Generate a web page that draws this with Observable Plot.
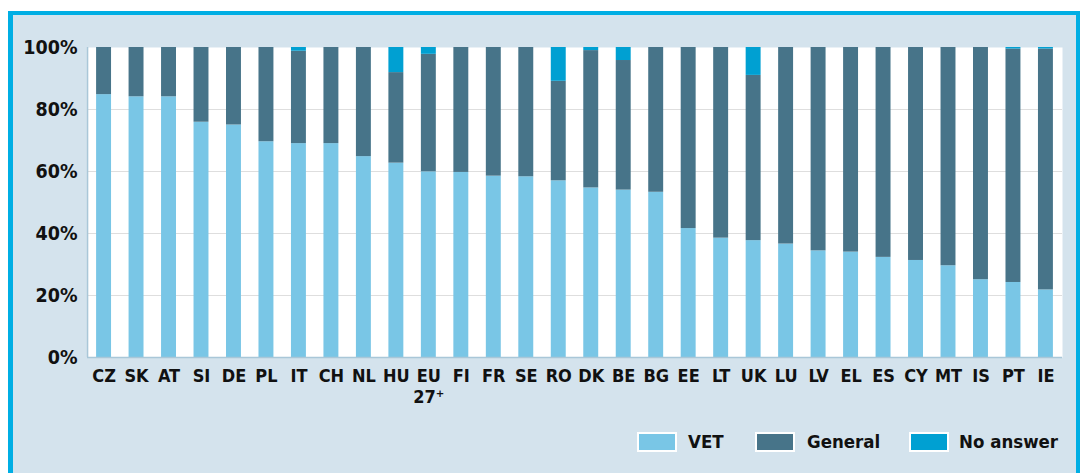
<!DOCTYPE html>
<html><head><meta charset="utf-8">
<script src="https://cdn.jsdelivr.net/npm/d3@7"></script>
<script src="https://cdn.jsdelivr.net/npm/@observablehq/plot@0.6"></script>
<style>
html,body{margin:0;padding:0;background:#fff;width:1080px;height:473px;overflow:hidden;position:relative;font-family:"DejaVu Sans Condensed",sans-serif;}
#frame{position:absolute;left:8px;top:11px;width:1072px;height:470px;box-sizing:border-box;border-left:5px solid #00aee4;border-top:4px solid #00aee4;border-right:4px solid #00aee4;background:#d4e3ed;}
#chart{position:absolute;left:0;top:0;}
.sw{position:absolute;top:432px;width:40px;height:20px;box-sizing:border-box;border:2px solid #fff;}
.lt{position:absolute;top:431px;height:22px;line-height:22px;font-size:18.5px;font-weight:bold;color:#111;white-space:nowrap;}
</style></head>
<body>
<div id="frame"></div>
<div id="chart"></div>
<div id="legend"></div>
<script>
const countries = ["CZ","SK","AT","SI","DE","PL","IT","CH","NL","HU","EU\n27⁺","FI","FR","SE","RO","DK","BE","BG","EE","LT","UK","LU","LV","EL","ES","CY","MT","IS","PT","IE"];
const vet      = [84.8,84.1,84.1,75.9,75.0,69.6,69.0,69.0,64.8,62.7,59.9,59.7,58.5,58.3,57.0,54.7,54.0,53.3,41.6,38.5,37.7,36.6,34.4,34.0,32.3,31.3,29.6,25.1,24.2,21.8];
const general  = [15.2,15.9,15.9,24.1,25.0,30.4,29.8,31.0,35.2,29.2,37.9,40.3,41.5,41.7,32.1,44.3,41.8,46.7,58.4,61.5,53.3,63.4,65.6,66.0,67.7,68.7,70.4,74.9,75.3,77.7];
const noAnswer = [0,0,0,0,0,0,1.2,0,0,8.1,2.2,0,0,0,10.9,1.0,4.2,0,0,0,9.0,0,0,0,0,0,0,0,0.5,0.5];
const seriesNames = ["VET","General","No answer"];
const seriesColors = ["#79c6e6","#477489","#00a0d2"];
const yTicks = [0,20,40,60,80,100];

const rows = [];
countries.forEach((c,i)=>{
  rows.push({country:c,type:"VET",value:vet[i]});
  rows.push({country:c,type:"General",value:general[i]});
  rows.push({country:c,type:"No answer",value:noAnswer[i]});
});

const font = '"DejaVu Sans Condensed",sans-serif';
const chart = Plot.plot({
  width:1080, height:420,
  marginLeft:87, marginRight:18, marginTop:47, marginBottom:63,
  style:{background:"transparent", fontFamily:font, fontWeight:"bold", color:"#111"},
  x:{domain:countries, paddingInner:0.54, paddingOuter:0.28, round:false, label:null},
  y:{domain:[0,100], label:null},
  color:{domain:seriesNames, range:seriesColors},
  marks:[
    Plot.frame({fill:"white", stroke:null}),
    Plot.gridY(yTicks.filter(d=>d>0 && d<100), {stroke:"#dedede", strokeOpacity:1, strokeWidth:1.2}),
    Plot.barY(rows, {x:"country", y:"value", fill:"type", order:seriesNames}),
    Plot.ruleX([0], {x:()=>countries[0], dx:-16.5, stroke:"#a9c7d8", strokeWidth:1.5}),
    Plot.ruleY([0], {stroke:"#a9c7d8", strokeWidth:1.5}),
    Plot.axisY({ticks:yTicks, tickSize:0, tickPadding:10, tickFormat:d=>d+"%", fontSize:19.5, fontWeight:"bold"}),
    Plot.axisX({tickSize:0, tickPadding:10, fontSize:18, fontWeight:"bold", lineHeight:1.15})
  ]
});
document.getElementById("chart").appendChild(chart);

const lg = document.getElementById("legend");
const swX = [637,755,909];
const txX = [688,807,959];
seriesNames.forEach((n,i)=>{
  const s=document.createElement("div"); s.className="sw"; s.style.left=swX[i]+"px"; s.style.background=seriesColors[i]; lg.appendChild(s);
  const t=document.createElement("div"); t.className="lt"; t.style.left=txX[i]+"px"; t.textContent=n; lg.appendChild(t);
});
</script>
</body></html>
